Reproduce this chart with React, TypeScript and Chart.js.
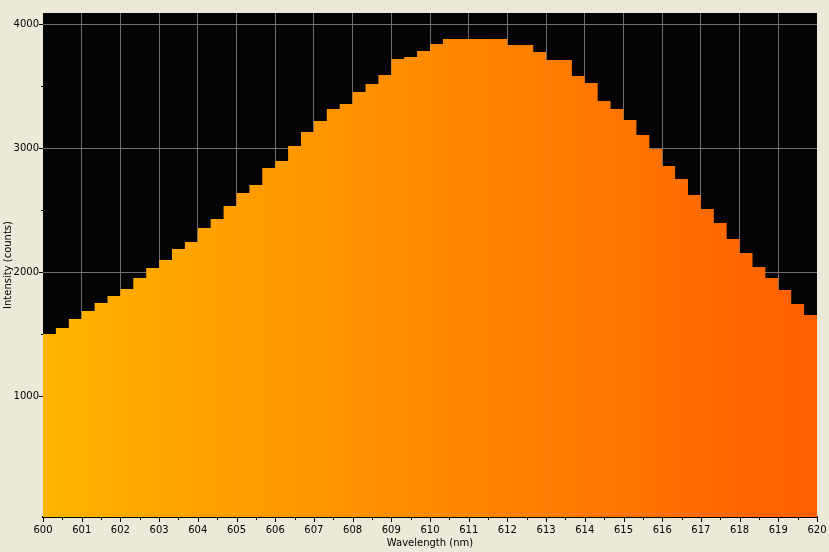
import { useEffect, useRef } from "react";
import { Chart, registerables, type ChartOptions, type Plugin } from "chart.js";

Chart.register(...registerables);

// spectrum bins, 1/3 nm wide, starting at 600 nm
const binStart = 600;
const binWidth = 1 / 3;
const intensity = [
  1502, 1551, 1623, 1688, 1752, 1809, 1866, 1954, 2035, 2099,
  2188, 2245, 2357, 2430, 2535, 2640, 2704, 2841, 2898, 3019,
  3132, 3220, 3317, 3357, 3454, 3519, 3591, 3720, 3736, 3785,
  3841, 3881, 3881, 3881, 3881, 3881, 3833, 3833, 3776, 3712,
  3712, 3583, 3527, 3382, 3317, 3228, 3107, 2994, 2857, 2752,
  2623, 2510, 2398, 2269, 2156, 2043, 1954, 1857, 1744, 1656,
];
const xTicks = [
  600, 601, 602, 603, 604, 605, 606, 607, 608, 609, 610,
  611, 612, 613, 614, 615, 616, 617, 618, 619, 620,
];
const yTicks = [1000, 2000, 3000, 4000];

const FONT = "'DejaVu Sans', sans-serif";

// each bin holds its value until the next bin start; last bin closes at 620
const points = [
  ...intensity.map((v, i) => ({ x: binStart + i * binWidth, y: v })),
  { x: binStart + intensity.length * binWidth, y: intensity[intensity.length - 1] },
];

const plotBackground: Plugin<"line"> = {
  id: "plotBackground",
  beforeDraw(chart) {
    const { ctx, chartArea } = chart;
    ctx.save();
    ctx.fillStyle = "#040406";
    ctx.fillRect(chartArea.left, chartArea.top, chartArea.width, chartArea.height);
    ctx.restore();
  },
};

const tickMarks: Plugin<"line"> = {
  id: "tickMarks",
  afterDraw(chart) {
    const { ctx, chartArea, scales } = chart;
    const x = scales.x;
    const y = scales.y;
    ctx.save();
    ctx.strokeStyle = "#000";
    ctx.lineWidth = 1;
    ctx.beginPath();
    xTicks.forEach((t, i) => {
      const px = Math.round(x.getPixelForValue(t)) + 0.5;
      ctx.moveTo(px, chartArea.bottom);
      ctx.lineTo(px, chartArea.bottom + 5);
      if (i < xTicks.length - 1) {
        const mx = Math.round(x.getPixelForValue(t + 0.5)) + 0.5;
        ctx.moveTo(mx, chartArea.bottom);
        ctx.lineTo(mx, chartArea.bottom + 3);
      }
    });
    yTicks.forEach((t, i) => {
      const py = Math.round(y.getPixelForValue(t)) + 0.5;
      ctx.moveTo(chartArea.left - 4, py);
      ctx.lineTo(chartArea.left, py);
      if (i < yTicks.length - 1) {
        const my = Math.round(y.getPixelForValue(t + 500)) + 0.5;
        ctx.moveTo(chartArea.left - 2, my);
        ctx.lineTo(chartArea.left, my);
      }
    });
    ctx.stroke();
    ctx.restore();
  },
};

const options: ChartOptions<"line"> = {
  responsive: true,
  maintainAspectRatio: false,
  animation: false,
  layout: { padding: { top: 13, right: 12, left: 0, bottom: 0 } },
  plugins: { legend: { display: false }, tooltip: { enabled: false } },
  elements: { point: { radius: 0 } },
  scales: {
    x: {
      type: "linear",
      min: 600,
      max: 620,
      afterBuildTicks: (scale) => {
        scale.ticks = xTicks.map((v) => ({ value: v }));
      },
      afterFit: (scale) => {
        scale.height = 35;
        scale.paddingLeft = 0;
        scale.paddingRight = 0;
      },
      grid: {
        drawTicks: false,
        color: (ctx) =>
          ctx.tick && (ctx.tick.value === 600 || ctx.tick.value === 620) ? "transparent" : "#6e6e6e",
      },
      border: { display: true, color: "#000", width: 2 },
      ticks: {
        autoSkip: false,
        maxRotation: 0,
        padding: 7,
        color: "#000",
        font: { family: FONT, size: 10 },
        callback: (v) => String(v),
      },
      title: {
        display: true,
        text: "Wavelength (nm)",
        color: "#000",
        font: { family: FONT, size: 10 },
        padding: { top: 0, bottom: 3 },
      },
    },
    y: {
      min: 27,
      max: 4091,
      afterBuildTicks: (scale) => {
        scale.ticks = yTicks.map((v) => ({ value: v }));
      },
      afterFit: (scale) => {
        scale.width = 43;
        scale.paddingTop = 0;
        scale.paddingBottom = 0;
      },
      grid: { drawTicks: false, color: "#6e6e6e" },
      border: { display: false },
      ticks: {
        padding: 4,
        color: "#000",
        font: { family: FONT, size: 10 },
        callback: (v) => String(v),
      },
      title: {
        display: true,
        text: "Intensity (counts)",
        color: "#000",
        font: { family: FONT, size: 10 },
        padding: { top: 2, bottom: 0 },
      },
    },
  },
};

export default function App() {
  const canvasRef = useRef<HTMLCanvasElement>(null);
  const chartRef = useRef<Chart<"line"> | null>(null);

  useEffect(() => {
    document.body.style.margin = "0";
    const canvas = canvasRef.current;
    if (!canvas) return;

    chartRef.current?.destroy();
    chartRef.current = new Chart(canvas, {
      type: "line",
      data: {
        datasets: [
          {
            label: "Intensity",
            data: points,
            stepped: true,
            fill: "start",
            borderWidth: 0,
            borderColor: "transparent",
            backgroundColor: (ctx) => {
              const { chartArea, ctx: c } = ctx.chart;
              if (!chartArea) return "#ff8c00";
              const g = c.createLinearGradient(chartArea.left, 0, chartArea.right, 0);
              g.addColorStop(0, "#ffb300");
              g.addColorStop(0.5, "#ff8a00");
              g.addColorStop(1, "#ff5e00");
              return g;
            },
          },
        ],
      },
      options,
      plugins: [plotBackground, tickMarks],
    });

    return () => {
      chartRef.current?.destroy();
      chartRef.current = null;
    };
  }, []);

  return (
    <div style={{ position: "relative", width: 829, height: 552, background: "#ece9d8" }}>
      <canvas ref={canvasRef} />
    </div>
  );
}
